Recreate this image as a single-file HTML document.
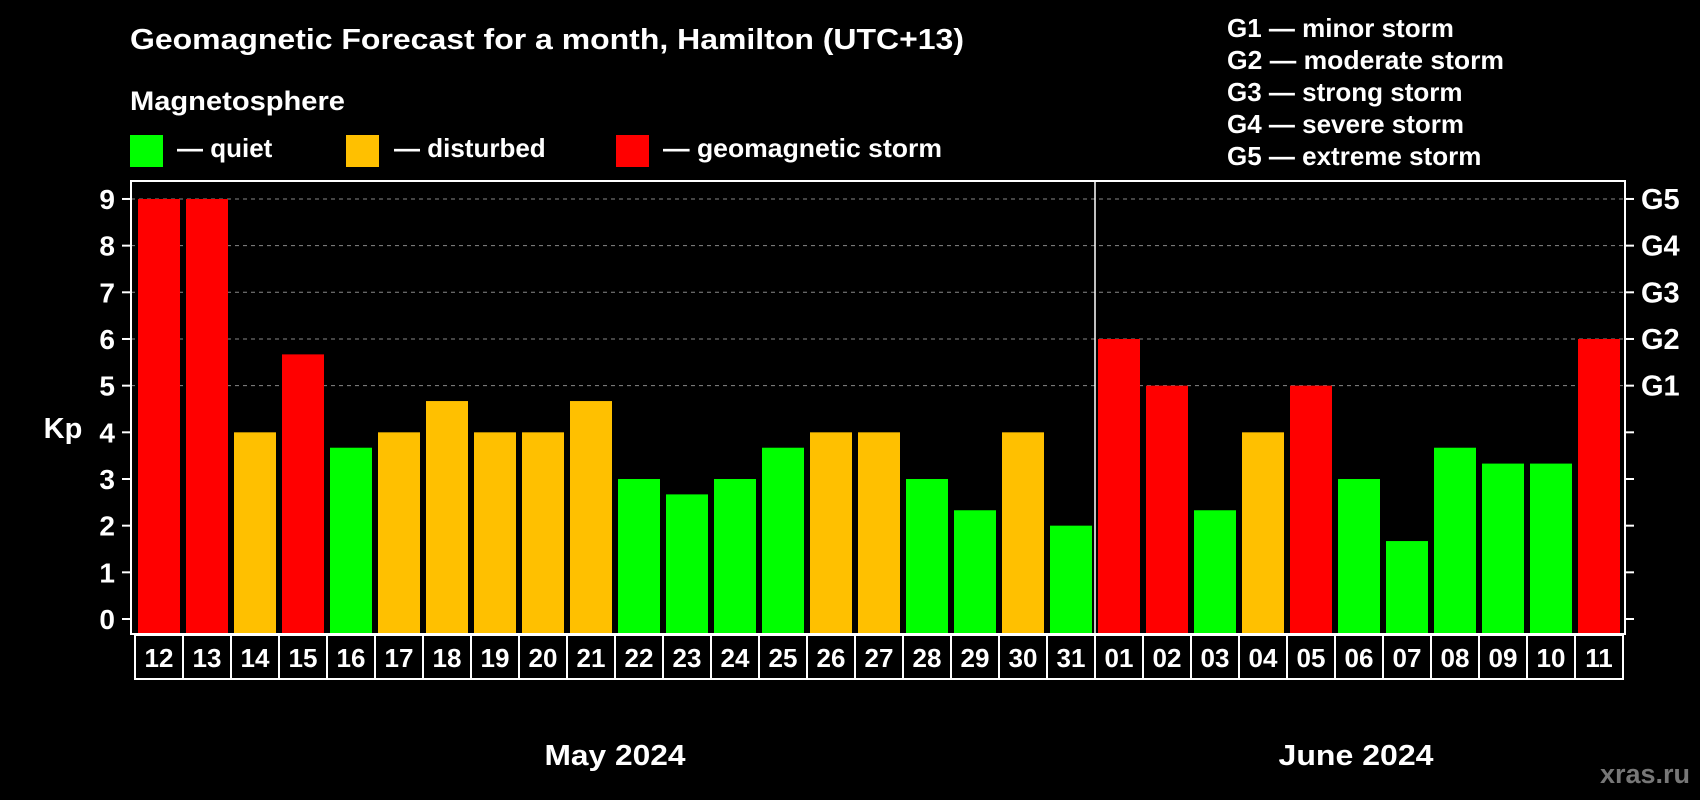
<!DOCTYPE html>
<html><head><meta charset="utf-8"><style>
html,body{margin:0;padding:0;background:#000;}
svg{display:block;font-family:"Liberation Sans",Arial,sans-serif;font-weight:bold;}
</style></head><body>
<svg id="chart" width="1700" height="800" viewBox="0 0 1700 800">
<rect width="1700" height="800" fill="#000"/>
<text x="130" y="49" fill="#fff" font-size="29" textLength="834" lengthAdjust="spacingAndGlyphs">Geomagnetic Forecast for a month, Hamilton (UTC+13)</text>
<text x="130" y="110" fill="#fff" font-size="27" textLength="215" lengthAdjust="spacingAndGlyphs">Magnetosphere</text>
<g><rect x="130" y="135" width="33" height="32" fill="#00ff00"/><text x="177" y="157" fill="#fff" font-size="26">— quiet</text></g>
<g><rect x="346" y="135" width="33" height="32" fill="#ffc000"/><text x="394" y="157" fill="#fff" font-size="26">— disturbed</text></g>
<g><rect x="616" y="135" width="33" height="32" fill="#ff0000"/><text x="663" y="157" fill="#fff" font-size="26" textLength="279" lengthAdjust="spacingAndGlyphs">— geomagnetic storm</text></g>
<g fill="#fff" font-size="26">
<text x="1227" y="37">G1 — minor storm</text>
<text x="1227" y="69" textLength="277" lengthAdjust="spacingAndGlyphs">G2 — moderate storm</text>
<text x="1227" y="101">G3 — strong storm</text>
<text x="1227" y="133">G4 — severe storm</text>
<text x="1227" y="165">G5 — extreme storm</text>
</g>
<g id="grid"></g>
<g id="bars"></g>
<g id="axes"></g>
<text x="63" y="438" fill="#fff" font-size="29" text-anchor="middle">Kp</text>
<text x="615" y="765" fill="#fff" font-size="29" text-anchor="middle" textLength="141" lengthAdjust="spacingAndGlyphs">May 2024</text>
<text x="1356" y="765" fill="#fff" font-size="29" text-anchor="middle" textLength="155" lengthAdjust="spacingAndGlyphs">June 2024</text>
<text x="1690" y="783" fill="#777" font-size="27" text-anchor="end">xras.ru</text>
</svg>
<script>
const days = ["12","13","14","15","16","17","18","19","20","21","22","23","24","25","26","27","28","29","30","31","01","02","03","04","05","06","07","08","09","10","11"];
const kpValues = [9,9,4,5.67,3.67,4,4.67,4,4,4.67,3,2.67,3,3.67,4,4,3,2.33,4,2,6,5,2.33,4,5,3,1.67,3.67,3.33,3.33,6];
const yTicks = [0,1,2,3,4,5,6,7,8,9];
const gLabels = ["G1","G2","G3","G4","G5"];
const gLevels = [5,6,7,8,9];
const monthBreakIndex = 20;

const NS="http://www.w3.org/2000/svg";
const X0=135, STEP=48, BW=42;
const yScale=v=>619-v*46.67;
const xScale=i=>X0+i*STEP;
function mk(tag,attrs,parent){const e=document.createElementNS(NS,tag);for(const k in attrs)e.setAttribute(k,attrs[k]);parent.appendChild(e);return e;}
const grid=document.getElementById('grid'),bars=document.getElementById('bars'),axes=document.getElementById('axes');
gLevels.forEach(v=>{
  const l=mk('line',{x1:131,x2:1625,y1:yScale(v),y2:yScale(v),stroke:'#888','stroke-width':1,'stroke-dasharray':'4,4'},grid);
  
  
});
kpValues.forEach((v,i)=>{
  const c=v>=5?'#ff0000':(v>=4?'#ffc000':'#00ff00');
  const r=mk('rect',{x:xScale(i)+3,y:yScale(v),width:BW,height:619-yScale(v)+15,fill:c},bars);
  
  
});
const frame=mk('rect',{x:131,y:181,width:1494,height:453,fill:'none',stroke:'#fff','stroke-width':2},axes);


const div=mk('line',{x1:xScale(monthBreakIndex),x2:xScale(monthBreakIndex),y1:181,y2:634,stroke:'#fff','stroke-width':1.5},axes);


yTicks.forEach(v=>{
  mk('line',{x1:122,x2:131,y1:yScale(v),y2:yScale(v),stroke:'#fff','stroke-width':2},axes);
  mk('line',{x1:1625,x2:1634,y1:yScale(v),y2:yScale(v),stroke:'#fff','stroke-width':2},axes);
  const t=mk('text',{x:115,y:yScale(v)+10,fill:'#fff','font-size':28,'text-anchor':'end'},axes);
  t.textContent=v;
  
  
});
gLabels.forEach((g,i)=>{
  const t=mk('text',{x:1641,y:yScale(gLevels[i])+10,fill:'#fff','font-size':29},axes);
  t.textContent=g;
  
  
});
days.forEach((d,i)=>{
  const r=mk('rect',{x:xScale(i),y:635,width:STEP,height:44,fill:'none',stroke:'#fff','stroke-width':2},axes);
  
  
  const t=mk('text',{x:xScale(i)+STEP/2,y:667,fill:'#fff','font-size':26,'text-anchor':'middle'},axes);
  t.textContent=d;
  
  
});
</script>
</body></html>
